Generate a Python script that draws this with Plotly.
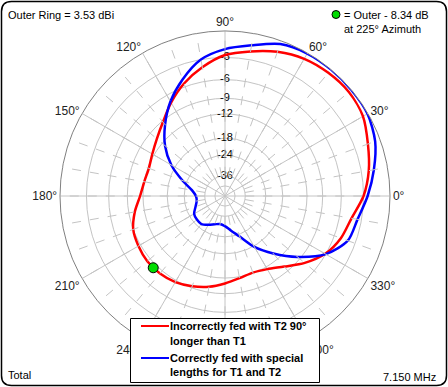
import numpy as np
import plotly.graph_objects as go

# ---------------- data ----------------
angles = list(range(0, 360, 10))
red_db = [-3.0, -2.1, -1.4, -0.6, -0.35, -0.45, -0.7, -1.25, -2.0, -2.7,
          -4.0, -5.5, -7.3, -9.2, -10.6, -11.6, -12.2, -12.0, -11.4, -10.1,
          -9.0, -8.6, -8.35, -8.4, -8.7, -9.3, -10.0, -10.9, -11.7, -12.1,
          -11.5, -10.0, -7.9, -6.1, -5.0, -4.3]
blue_db = [-2.5, -1.5, -0.55, -0.05, 0.0, 0.0, -0.05, -0.35, -1.3, -2.0,
           -3.0, -4.9, -7.1, -9.8, -12.8, -16.8, -22.2, -27.3, -29.8, -30.0,
           -28.5, -26.3, -25.8, -25.8, -27.5, -29.2, -30.2, -29.2, -26.5, -23.0,
           -17.7, -13.5, -9.5, -6.0, -4.0, -3.5]
ring_db = [-3, -6, -9, -12, -18, -24, -36, -48]
ring_labels = ["-3", "-6", "-9", "-12", "-18", "-24", "-36"]
angle_ticks = list(range(0, 360, 30))
angle_tick_text = ["0°", "30°", "60°", "90°", "120°", "150°", "180°",
                   "210°", "240°", "", "300°", "330°"]  # 270° lies under the legend box
minor_ticks = list(range(0, 360, 10))
marker_az = 225
marker_db = -8.34
red_name = ["Incorrectly fed with T2 90°", "longer than T1"]
blue_name = ["Correctly fed with special", "lengths for T1 and T2"]


def arrl(db):
    # ARRL log scale: radius shrinks by 0.89 for every 2 dB
    return 0.89 ** (-np.asarray(db, dtype=float) / 2.0)


W, H = 448, 387
cx, cy, R = 225, 196, 165

def px(x):
    return x / W

def py(y):
    return 1 - y / H

dom_x = [px(cx - R), px(cx + R)]
dom_y = [py(cy + R), py(cy - R)]

FONT = "Liberation Sans, Arial, sans-serif"
GRID = "#c4c4c4"
RED, BLUE = "#ff0000", "#0000ff"

fig = go.Figure()

# invisible anchors so that the grid subplots are drawn
fig.add_trace(go.Scatterpolar(
    r=[0], theta=[0], mode="markers", marker=dict(opacity=0),
    showlegend=False, hoverinfo="skip", subplot="polar"))
fig.add_trace(go.Scatterpolar(
    r=[0.5], theta=[0], mode="markers", marker=dict(opacity=0),
    showlegend=False, hoverinfo="skip", subplot="polar3"))

# ring labels (under the curves)
fig.add_trace(go.Scatterpolar(
    r=arrl(ring_db[:len(ring_labels)]), theta=[90] * len(ring_labels),
    mode="text", text=ring_labels, textposition="middle center",
    textfont=dict(family=FONT, size=11, color="#000000"),
    showlegend=False, hoverinfo="skip", subplot="polar2"))

th = angles + [angles[0] + 360]
fig.add_trace(go.Scatterpolar(
    r=arrl(red_db + [red_db[0]]), theta=th, mode="lines",
    line=dict(color=RED, width=2.5, shape="spline", smoothing=0.8),
    name=" ".join(red_name), showlegend=False, subplot="polar2"))
fig.add_trace(go.Scatterpolar(
    r=arrl(blue_db + [blue_db[0]]), theta=th, mode="lines",
    line=dict(color=BLUE, width=2.5, shape="spline", smoothing=0.8),
    name=" ".join(blue_name), showlegend=False, subplot="polar2"))
fig.add_trace(go.Scatterpolar(
    r=arrl([marker_db]), theta=[marker_az], mode="markers",
    marker=dict(color="#00dd00", size=10, line=dict(color="#000000", width=1)),
    showlegend=False, hoverinfo="skip", subplot="polar2"))

hole = float(arrl(-36))

fig.update_layout(
    width=W, height=H,
    margin=dict(l=0, r=0, t=0, b=0),
    paper_bgcolor="white",
    plot_bgcolor="white",
    showlegend=False,
    font=dict(family=FONT, size=12, color="#000000"),
    # rings
    polar=dict(
        domain=dict(x=dom_x, y=dom_y),
        bgcolor="white",
        radialaxis=dict(range=[0, 1], tickvals=list(arrl(ring_db)),
                        showticklabels=False, ticks="", showline=False,
                        gridcolor=GRID, gridwidth=1),
        angularaxis=dict(rotation=0, direction="counterclockwise",
                         showgrid=False, showticklabels=False, ticks="",
                         showline=False),
    ),
    # dashed 10-degree spokes (start at the -36 ring)
    polar3=dict(
        domain=dict(x=dom_x, y=dom_y),
        bgcolor="rgba(0,0,0,0)",
        hole=hole,
        radialaxis=dict(range=[0, 1], showgrid=False, showticklabels=False,
                        ticks="", showline=False),
        angularaxis=dict(rotation=0, direction="counterclockwise",
                         tickmode="array", tickvals=minor_ticks,
                         showticklabels=False, ticks="", showline=False,
                         gridcolor=GRID, gridwidth=1, griddash="dash"),
    ),
    # solid 30-degree spokes, outer ring, labels, curves
    polar2=dict(
        domain=dict(x=dom_x, y=dom_y),
        bgcolor="rgba(0,0,0,0)",
        radialaxis=dict(range=[0, 1], showgrid=False, showticklabels=False,
                        ticks="", showline=False),
        angularaxis=dict(rotation=0, direction="counterclockwise",
                         tickmode="array", tickvals=angle_ticks,
                         ticktext=angle_tick_text,
                         ticks="", showline=True, linecolor="#808080",
                         linewidth=1, gridcolor=GRID, gridwidth=1,
                         tickfont=dict(family=FONT, size=12, color="#222222")),
    ),
)

# legend box
fig.add_shape(type="rect", xref="paper", yref="paper", layer="above",
              x0=px(130.5), x1=px(319.5), y0=py(382.5), y1=py(318.5),
              fillcolor="white", line=dict(color="#000000", width=1))
for color, yl in ((RED, 326), (BLUE, 358)):
    fig.add_shape(type="line", xref="paper", yref="paper", layer="above",
                  x0=px(141), x1=px(169), y0=py(yl), y1=py(yl),
                  line=dict(color=color, width=2))

# frame with rounded corners
L, Rt, T, B, rc = 1.5, 446.5, 1.5, 385.5, 10
path = (f"M {px(L+rc)},{py(T)} L {px(Rt-rc)},{py(T)} Q {px(Rt)},{py(T)} {px(Rt)},{py(T+rc)} "
        f"L {px(Rt)},{py(B-rc)} Q {px(Rt)},{py(B)} {px(Rt-rc)},{py(B)} "
        f"L {px(L+rc)},{py(B)} Q {px(L)},{py(B)} {px(L)},{py(B-rc)} "
        f"L {px(L)},{py(T+rc)} Q {px(L)},{py(T)} {px(L+rc)},{py(T)} Z")
fig.add_shape(type="path", xref="paper", yref="paper", path=path,
              line=dict(color="#000000", width=1.5))

# green legend dot (top right)
fig.add_shape(type="circle", xref="paper", yref="paper",
              x0=px(332), x1=px(340), y0=py(18.5), y1=py(10.5),
              fillcolor="#00dd00", line=dict(color="#000000", width=1))

def note(x, y, text, anchor="left", bold=False):
    fig.add_annotation(x=px(x), y=py(y), xref="paper", yref="paper",
                       text=text, showarrow=False, xanchor=anchor, yanchor="middle",
                       font=dict(family=FONT, size=11, color="#000000",
                                 weight="bold" if bold else "normal"))

note(6, 15, "Outer Ring = 3.53 dBi")
note(342, 15, "= Outer - 8.34 dB")
note(342, 29, "at 225° Azimuth")
note(6, 375, "Total")
note(438, 377, "7.150 MHz", anchor="right")

for txt, yl in zip(red_name + blue_name, (326, 341, 358, 372)):
    note(168, yl, txt, bold=True)

fig.write_html("out.html", config={"displayModeBar": False},
               post_script="document.body.style.margin='0';")
